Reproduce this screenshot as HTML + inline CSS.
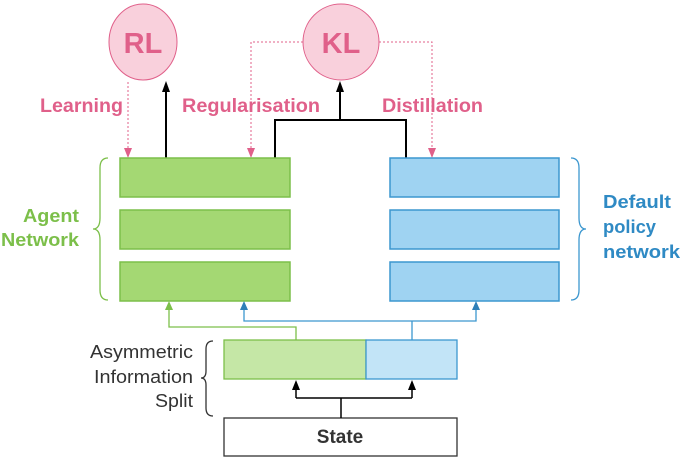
<!DOCTYPE html>
<html><head><style>body{margin:0;background:#fff}svg{display:block}</style></head><body>
<svg width="682" height="460" viewBox="0 0 682 460" xmlns="http://www.w3.org/2000/svg" font-family="Liberation Sans, sans-serif">
<ellipse cx="143" cy="42" rx="34" ry="38" fill="#f9d0dc" stroke="#e0608a" stroke-width="1"/>
<text x="143" y="53" text-anchor="middle" font-size="29" font-weight="bold" fill="#e0608a">RL</text>
<ellipse cx="341" cy="42" rx="38" ry="38" fill="#f9d0dc" stroke="#e0608a" stroke-width="1"/>
<text x="341" y="53" text-anchor="middle" font-size="29" font-weight="bold" fill="#e0608a">KL</text>
<g font-size="19" font-weight="bold" fill="#e0608a">
<text x="40" y="112" textLength="83" lengthAdjust="spacingAndGlyphs">Learning</text>
<text x="182" y="112" textLength="138" lengthAdjust="spacingAndGlyphs">Regularisation</text>
<text x="382" y="112" textLength="101" lengthAdjust="spacingAndGlyphs">Distillation</text>
</g>
<g stroke="#e0608a" stroke-width="1" stroke-dasharray="2,2" fill="none">
<path d="M128 82 V150" />
<path d="M303 42 H251 V150"/>
<path d="M379 42 H432 V150"/>
</g>
<g fill="#e0608a"><path d="M124 148 L132 148 L128 158Z"/><path d="M247 148 L255 148 L251 158Z"/><path d="M428 148 L436 148 L432 158Z"/></g>
<g stroke="#000" stroke-width="2" fill="none">
<path d="M166 158 V90"/>
<path d="M275 158 V120 H406 V158"/>
<path d="M340 120 V90"/>
</g>
<g fill="#000"><path d="M162 92 L170 92 L166 81Z"/><path d="M336 92 L344 92 L340 81Z"/></g>
<g fill="#a4d873" stroke="#7cbf4a" stroke-width="1.5">
<rect x="120" y="158" width="170" height="39"/><rect x="120" y="210" width="170" height="39"/><rect x="120" y="262" width="170" height="39"/>
</g>
<g fill="#9fd3f2" stroke="#3c97cf" stroke-width="1.5">
<rect x="390" y="158" width="169" height="39"/><rect x="390" y="210" width="169" height="39"/><rect x="390" y="262" width="169" height="39"/>
</g>
<path d="M108 158 Q100 158 100 168 V218 Q100 229 93 229 Q100 229 100 240 V290 Q100 300 108 300" fill="none" stroke="#7cbf4a" stroke-width="1.3"/>
<path d="M571 158 Q579 158 579 168 V218 Q579 229 586 229 Q579 229 579 240 V290 Q579 300 571 300" fill="none" stroke="#3c97cf" stroke-width="1.3"/>
<path d="M213 341 Q206 341 206 349 V371 Q206 378 201 378 Q206 378 206 385 V408 Q206 416 213 416" fill="none" stroke="#333" stroke-width="1.3"/>
<g font-size="18" font-weight="bold" fill="#7cbf4a"><text x="23" y="222" textLength="56" lengthAdjust="spacingAndGlyphs">Agent</text><text x="1" y="246" textLength="78" lengthAdjust="spacingAndGlyphs">Network</text></g>
<g font-size="18" font-weight="bold" fill="#2f8ac4"><text x="603" y="208" textLength="68" lengthAdjust="spacingAndGlyphs">Default</text><text x="603" y="233" textLength="53" lengthAdjust="spacingAndGlyphs">policy</text><text x="603" y="258" textLength="77" lengthAdjust="spacingAndGlyphs">network</text></g>
<g font-size="18" fill="#333"><text x="90" y="358" textLength="103" lengthAdjust="spacingAndGlyphs">Asymmetric</text><text x="94" y="383" textLength="99" lengthAdjust="spacingAndGlyphs">Information</text><text x="155" y="407" textLength="38" lengthAdjust="spacingAndGlyphs">Split</text></g>
<rect x="224" y="340" width="142" height="39" fill="#c5e7a6" stroke="#7cbf4a" stroke-width="1.3"/>
<rect x="366" y="340" width="91" height="39" fill="#c2e4f7" stroke="#3c97cf" stroke-width="1.3"/>
<rect x="224" y="418" width="233" height="38" fill="#fff" stroke="#333" stroke-width="1.3"/>
<text x="340" y="443" text-anchor="middle" font-size="19" font-weight="bold" fill="#333">State</text>
<path d="M296 340 V327 H169 V308" fill="none" stroke="#7cbf4a" stroke-width="1.3"/>
<path d="M165 310 L173 310 L169 301Z" fill="#7cbf4a"/>
<path d="M412 340 V321 M244 308 V321 H476 V308" fill="none" stroke="#3c97cf" stroke-width="1.3"/>
<path d="M240 310 L248 310 L244 301Z M472 310 L480 310 L476 301Z" fill="#2f7fb8"/>
<path d="M341 418 V398 M296 398 H412 M296 398 V388 M412 398 V388" fill="none" stroke="#000" stroke-width="1.5"/>
<path d="M292 390 L300 390 L296 380Z M408 390 L416 390 L412 380Z" fill="#000"/>
</svg>
</body></html>
